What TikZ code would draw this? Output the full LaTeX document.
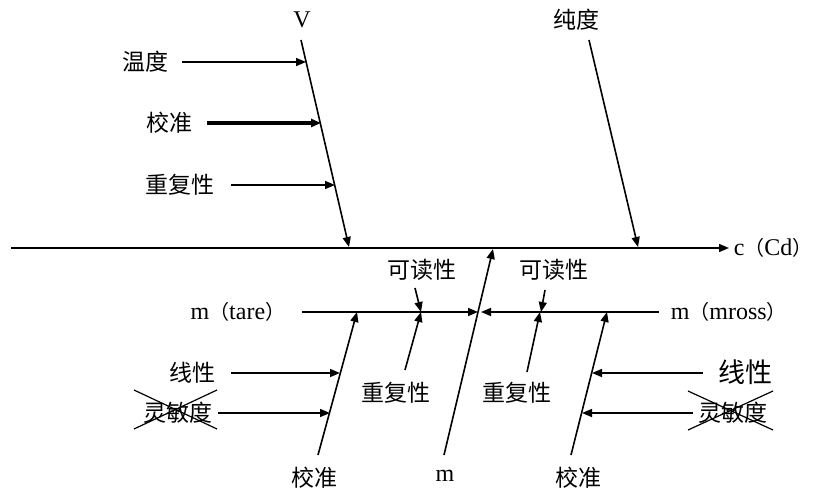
\documentclass[tikz,border=0pt]{standalone}
\usepackage{fontspec}
\setmainfont{Liberation Serif}
\newfontfamily\cjk{Noto Sans CJK SC}
\newcommand{\lp}{{\cjk\fontsize{20}{26}\selectfont （}}
\newcommand{\rp}{{\cjk\fontsize{20}{26}\selectfont ）}}
\usetikzlibrary{arrows.meta}
\begin{document}
\begin{tikzpicture}[x=1pt,y=-1pt, line width=1.6pt,
  >={Triangle[length=10pt,width=8pt]},
  lbl/.style={font=\cjk\fontsize{23}{26}\selectfont, inner sep=0pt},
  big/.style={font=\cjk\fontsize{27}{30}\selectfont, inner sep=0pt},
  lat/.style={font=\fontsize{24}{28}\selectfont, inner sep=0pt},
  xline/.style={line width=1.2pt}]
\useasboundingbox (0,0) rectangle (814,490);
% spine
\coordinate (mainL) at (11,248);
\coordinate (mainR) at (729,248);
\draw[->] (mainL) -- (mainR);
\node[lat, anchor=west] (c) at (733,248) {c\lp Cd\rp};
% V branch
\node[lat] (V) at (302,20) {V};
\coordinate (Vt) at (301,40);
\coordinate (Vb) at (349,247);
\draw[->] (Vt) -- (Vb);
\node[lbl] (wendu) at (145,62) {温度};
\coordinate (wd1) at (182,62); \coordinate (wd2) at (306,62);
\draw[->] (wd1) -- (wd2);
\node[lbl] (jz1) at (169,123) {校准};
\coordinate (jz1a) at (207,123); \coordinate (jz1b) at (321,123);
\draw[->, line width=3.2pt] (jz1a) -- (jz1b);
\node[lbl] (cf1) at (180,185) {重复性};
\coordinate (cf1a) at (231,185); \coordinate (cf1b) at (335,185);
\draw[->] (cf1a) -- (cf1b);
% purity
\node[lbl] (chundu) at (576,20) {纯度};
\coordinate (pt) at (589,40); \coordinate (pb) at (638,247);
\draw[->] (pt) -- (pb);
% m branch
\node[lat] (m) at (445,476) {m};
\coordinate (mb) at (444,455); \coordinate (mt) at (493,249);
\draw[->] (mb) -- (mt);
% tare / mross lines
\node[lat, anchor=east] (tare) at (286,312) {m\lp tare\rp};
\coordinate (ta) at (302,312); \coordinate (tb) at (478,312);
\draw[->] (ta) -- (tb);
\node[lat, anchor=west] (mross) at (670,312) {m\lp mross\rp};
\coordinate (ra) at (659,312); \coordinate (rb) at (481,312);
\draw[->] (ra) -- (rb);
% left calibration
\node[lbl] (jz2) at (314,478) {校准};
\coordinate (l1) at (318,455); \coordinate (l2) at (357,312);
\draw[->] (l1) -- (l2);
\node[lbl] (xx1) at (192,373) {线性};
\coordinate (x1a) at (231,373); \coordinate (x1b) at (340,373);
\draw[->] (x1a) -- (x1b);
\node[lbl] (lm1) at (178,413) {灵敏度};
\coordinate (s1a) at (218,413); \coordinate (s1b) at (330,413);
\draw[->] (s1a) -- (s1b);
\draw[xline] (134,390) -- (217,429) (134,429) -- (217,390);
% left repeatability / readability
\node[lbl] (cf2) at (396,393) {重复性};
\coordinate (c2a) at (405,370); \coordinate (c2b) at (421,312);
\draw[->] (c2a) -- (c2b);
\node[lbl] (kd1) at (422,270) {可读性};
\coordinate (k1a) at (415,288); \coordinate (k1b) at (421,312);
\draw[->] (k1a) -- (k1b);
% right repeatability / readability
\node[lbl] (cf3) at (517,393) {重复性};
\coordinate (c3a) at (527,372); \coordinate (c3b) at (540,312);
\draw[->] (c3a) -- (c3b);
\node[lbl] (kd2) at (554,270) {可读性};
\coordinate (k2a) at (545,290); \coordinate (k2b) at (541,312);
\draw[->] (k2a) -- (k2b);
% right calibration
\node[lbl] (jz3) at (578,478) {校准};
\coordinate (r1) at (571,455); \coordinate (r2) at (607,312);
\draw[->] (r1) -- (r2);
\node[big] (xx2) at (745,372) {线性};
\coordinate (x2a) at (703,373); \coordinate (x2b) at (592,373);
\draw[->] (x2a) -- (x2b);
\node[lbl] (lm2) at (733,413) {灵敏度};
\coordinate (s2a) at (693,413); \coordinate (s2b) at (582,413);
\draw[->] (s2a) -- (s2b);
\draw[xline] (688,430) -- (773,391) (688,391) -- (773,430);
\end{tikzpicture}
\end{document}
